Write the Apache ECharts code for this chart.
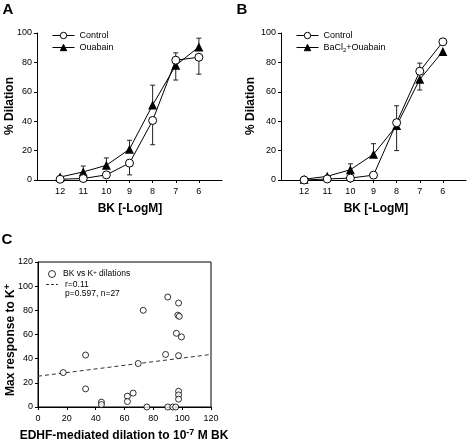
<!DOCTYPE html>
<html><head><meta charset="utf-8">
<script src="https://cdn.jsdelivr.net/npm/echarts@6/dist/echarts.min.js"></script>
<style>html,body{margin:0;padding:0;background:#fff}#c{width:469px;height:442px}</style>
</head><body><div id="c"></div>
<script>
// ---- data ----
const doses = ['12', '11', '10', '9', '8', '7', '6'];
const yTicksAB = [0, 20, 40, 60, 80, 100];
// Panel A
const ctrlA = [0.5, 1, 3.5, 11.5, 40.5, 81.5, 83.5];
const ouabA = [2, 5.5, 10, 21, 51, 78, 90.5];
const ctrlA_errEnd = [null, null, null, 3.5, 24, 86.5, 72];
const ouabA_errEnd = [null, 9.5, 15, 27, 64.5, 68, 96.5];
// Panel B
const ctrlB = [0, 0.7, 1.3, 3.3, 39, 74, 94];
const baB = [0.5, 2.5, 7, 17.5, 37, 68.5, 87.5];
const ctrlB_errEnd = [null, null, null, null, 50.5, 79.5, 95.5];
const baB_errEnd = [null, null, 11, 24.7, 20, 61.2, null];
// Panel C
const edhfX = [17.5, 33, 33, 44, 44, 62, 62, 66, 69.5, 73, 75.5, 88.5, 90, 90, 93.5, 95.5, 97.5, 97.5, 97.5, 97.5, 97.5, 97, 98, 96, 99.5];
const kMaxY = [28.5, 43, 15, 4, 2, 9, 4.5, 11.5, 36, 80, 0, 43.5, 0, 91, 0, 0, 13, 10, 6.5, 42.5, 86, 76, 75, 61, 58];
const fitX = [0, 120];
const fitY = [25.5, 43.5];

// ---- helpers ----
const FONT = 'Liberation Sans, Arial, sans-serif';
const cats = [''].concat(doses, ['']);
function lineData(vals) { return vals.map((v, i) => [i + 1, v]); }
function errData(mean, ends) {
  const out = [];
  ends.forEach((e, i) => { if (e !== null) out.push([i + 1, mean[i], e]); });
  return out;
}
function errRender(params, api) {
  const x = api.value(0);
  const p0 = api.coord([x, api.value(1)]);
  const p1 = api.coord([x, api.value(2)]);
  const w = 2.5;
  const st = { stroke: '#222', lineWidth: 1 };
  return { type: 'group', children: [
    { type: 'line', shape: { x1: p0[0], y1: p0[1], x2: p1[0], y2: p1[1] }, style: st },
    { type: 'line', shape: { x1: p1[0] - w, y1: p1[1], x2: p1[0] + w, y2: p1[1] }, style: st }
  ]};
}
function catAxis(gi) {
  return {
    type: 'category', gridIndex: gi, data: cats, boundaryGap: false,
    axisLine: { lineStyle: { color: '#000', width: 1 } },
    axisTick: { length: 3, interval: (i) => i > 0 && i < cats.length - 1, lineStyle: { color: '#000' } },
    axisLabel: { interval: 0, fontSize: 9, color: '#000', fontFamily: FONT, margin: 7 },
    splitLine: { show: false }
  };
}
function valAxisAB(gi) {
  return {
    type: 'value', gridIndex: gi, min: yTicksAB[0], max: yTicksAB[yTicksAB.length - 1], interval: 20,
    axisLine: { show: true, lineStyle: { color: '#000', width: 1 } },
    axisTick: { show: true, length: 3, lineStyle: { color: '#000' } },
    axisLabel: { fontSize: 9, color: '#000', fontFamily: FONT, margin: 5 },
    splitLine: { show: false }
  };
}
const openCircle = { symbol: 'circle', symbolSize: 8, itemStyle: { color: '#fff', borderColor: '#000', borderWidth: 1 } };
const filledTri = { symbol: 'triangle', symbolSize: 9, itemStyle: { color: '#000', borderColor: '#000', borderWidth: 0 } };
function lineSeries(name, gi, vals, sym, z) {
  return Object.assign({
    type: 'line', name: name, xAxisIndex: gi, yAxisIndex: gi, data: lineData(vals),
    lineStyle: { color: '#000', width: 1 }, z: z, animation: false, emphasis: { disabled: true }
  }, sym);
}
function errSeries(gi, mean, ends) {
  return { type: 'custom', xAxisIndex: gi, yAxisIndex: gi, data: errData(mean, ends),
    encode: { x: 0, y: [1, 2] }, renderItem: errRender, z: 1, silent: true, animation: false };
}
const titleStyle = { fontFamily: FONT, fontWeight: 'bold', fill: '#000' };
const legendCommon = { orient: 'vertical', itemWidth: 22, itemHeight: 8, itemGap: 3, selectedMode: false,
  lineStyle: { width: 1, color: '#000' }, itemStyle: { borderWidth: 1, borderColor: '#000' } };

const chart = echarts.init(document.getElementById('c'), null, { renderer: 'canvas' });
chart.setOption({
  animation: false,
  backgroundColor: '#fff',
  textStyle: { fontFamily: FONT },
  grid: [
    { left: 37, top: 33, width: 185, height: 147 },
    { left: 281, top: 33, width: 186, height: 147 },
    { left: 38, top: 262, width: 173, height: 145, show: true, borderColor: '#000', borderWidth: 1, backgroundColor: 'transparent' }
  ],
  xAxis: [
    catAxis(0), catAxis(1),
    { type: 'value', gridIndex: 2, min: 0, max: 120, interval: 20,
      axisLine: { lineStyle: { color: '#000' } }, axisTick: { length: 3, lineStyle: { color: '#000' } },
      axisLabel: { fontSize: 9, color: '#000', fontFamily: FONT, margin: 7 }, splitLine: { show: false } }
  ],
  yAxis: [
    valAxisAB(0), valAxisAB(1),
    { type: 'value', gridIndex: 2, min: 0, max: 120, interval: 20,
      axisLine: { show: true, lineStyle: { color: '#000' } }, axisTick: { show: true, length: 3, lineStyle: { color: '#000' } },
      axisLabel: { fontSize: 9, color: '#000', fontFamily: FONT, margin: 5 }, splitLine: { show: false } }
  ],
  legend: [
    Object.assign({}, legendCommon, { left: 47, top: 26,
      data: ['Control', 'Ouabain'], textStyle: { fontSize: 9, color: '#000', fontFamily: FONT } }),
    Object.assign({}, legendCommon, { left: 291, top: 26,
      data: ['Control', 'BaCl2+Ouabain'],
      formatter: (n) => n === 'BaCl2+Ouabain' ? '{n|BaCl}{s|2}{n|+Ouabain}' : '{n|' + n + '}',
      textStyle: { fontSize: 9, color: '#000', fontFamily: FONT,
        rich: { n: { fontSize: 9, lineHeight: 12, fontFamily: FONT, color: '#000' },
                s: { fontSize: 6, lineHeight: 12, verticalAlign: 'bottom', fontFamily: FONT, color: '#000' } } } }),
    { orient: 'vertical', left: 43, top: 264, itemWidth: 12, itemHeight: 7, selectedMode: false,
      itemStyle: { borderWidth: 1, borderColor: '#000' },
      data: ['BK vs K+ dilations'],
      formatter: () => '{n|BK vs K}{s|+}{n| dilations}',
      textStyle: { fontSize: 8.5, color: '#000', fontFamily: FONT,
        rich: { n: { fontSize: 8.5, lineHeight: 10, fontFamily: FONT, color: '#000' },
                s: { fontSize: 6, lineHeight: 10, verticalAlign: 'top', fontFamily: FONT, color: '#000' } } } }
  ],
  series: [
    errSeries(0, ctrlA, ctrlA_errEnd),
    errSeries(0, ouabA, ouabA_errEnd),
    lineSeries('Control', 0, ctrlA, openCircle, 3),
    lineSeries('Ouabain', 0, ouabA, filledTri, 2),
    errSeries(1, ctrlB, ctrlB_errEnd),
    errSeries(1, baB, baB_errEnd),
    lineSeries('Control', 1, ctrlB, openCircle, 3),
    lineSeries('BaCl2+Ouabain', 1, baB, filledTri, 2),
    { type: 'line', name: 'r=0.11', xAxisIndex: 2, yAxisIndex: 2, data: fitX.map((x, i) => [x, fitY[i]]),
      symbol: 'none', lineStyle: { color: '#333', width: 1, type: [4, 3] }, itemStyle: { color: '#333' }, z: 1, animation: false, emphasis: { disabled: true } },
    { type: 'scatter', name: 'BK vs K+ dilations', xAxisIndex: 2, yAxisIndex: 2, data: edhfX.map((x, i) => [x, kMaxY[i]]),
      symbol: 'circle', symbolSize: 6, itemStyle: { color: '#fff', borderColor: '#000', borderWidth: 1 }, z: 3, animation: false, emphasis: { disabled: true } }
  ],
  graphic: [
    { type: 'text', x: 8, y: 10, style: Object.assign({ text: 'A', fontSize: 15, textAlign: 'center', textVerticalAlign: 'middle' }, titleStyle) },
    { type: 'text', x: 242, y: 10, style: Object.assign({ text: 'B', fontSize: 15, textAlign: 'center', textVerticalAlign: 'middle' }, titleStyle) },
    { type: 'text', x: 7, y: 240, style: Object.assign({ text: 'C', fontSize: 15, textAlign: 'center', textVerticalAlign: 'middle' }, titleStyle) },
    { type: 'text', x: 10, y: 106, rotation: Math.PI / 2, style: Object.assign({ text: '% Dilation', fontSize: 12, textAlign: 'center', textVerticalAlign: 'middle' }, titleStyle) },
    { type: 'text', x: 251, y: 106, rotation: Math.PI / 2, style: Object.assign({ text: '% Dilation', fontSize: 12, textAlign: 'center', textVerticalAlign: 'middle' }, titleStyle) },
    { type: 'text', x: 130, y: 209, style: Object.assign({ text: 'BK [-LogM]', fontSize: 12, textAlign: 'center', textVerticalAlign: 'middle' }, titleStyle) },
    { type: 'text', x: 376, y: 209, style: Object.assign({ text: 'BK [-LogM]', fontSize: 12, textAlign: 'center', textVerticalAlign: 'middle' }, titleStyle) },
    { type: 'line', shape: { x1: 46, y1: 284.5, x2: 58, y2: 284.5 }, style: { stroke: '#333', lineWidth: 1, lineDash: [3, 2] } },
    { type: 'text', x: 65, y: 284.5, style: { text: 'r=0.11', fontSize: 8.5, fontFamily: FONT, fill: '#000', textVerticalAlign: 'middle' } },
    { type: 'text', x: 65, y: 294, style: { text: 'p=0.597, n=27', fontSize: 8.5, fontFamily: FONT, fill: '#000', textVerticalAlign: 'middle' } },
    { type: 'text', x: 11, y: 340, rotation: Math.PI / 2, style: Object.assign({
        text: '{n|Max response to K}{s|+}', fontSize: 12, textAlign: 'center', textVerticalAlign: 'middle',
        rich: { n: { fontSize: 12, fontWeight: 'bold', fontFamily: FONT, lineHeight: 15 },
                s: { fontSize: 9, fontWeight: 'bold', fontFamily: FONT, lineHeight: 15, verticalAlign: 'top' } } }, titleStyle) },
    { type: 'text', x: 124, y: 436, style: Object.assign({
        text: '{n|EDHF-mediated dilation to 10}{s|-7}{n| M BK}', fontSize: 12, textAlign: 'center', textVerticalAlign: 'middle',
        rich: { n: { fontSize: 12, fontWeight: 'bold', fontFamily: FONT, lineHeight: 15 },
                s: { fontSize: 9, fontWeight: 'bold', fontFamily: FONT, lineHeight: 15, verticalAlign: 'top' } } }, titleStyle) }
  ]
});
</script></body></html>
